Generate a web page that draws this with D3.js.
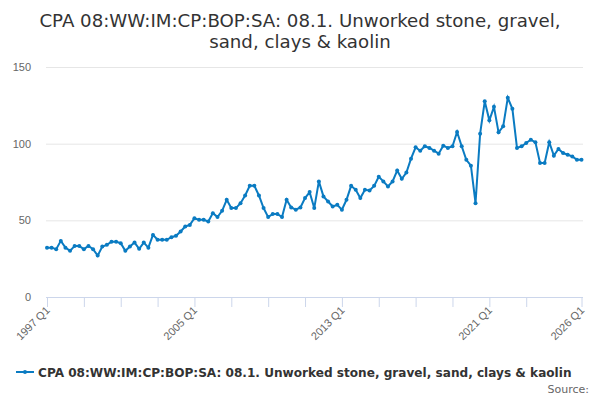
<!DOCTYPE html>
<html>
<head>
<meta charset="utf-8">
<script src="https://cdn.jsdelivr.net/npm/d3@7"></script>
<style>
  body { margin: 0; background: #fff; }
  svg { font-family: "DejaVu Sans", sans-serif; }
</style>
</head>
<body>
<div id="chart"></div>
<script>
// quarterly series, 1997 Q1 .. 2026 Q1
var startYear = 1997;
var values = [
  32.2, 32.2, 31.2, 36.6, 32.2, 30.1, 33.3, 33.3, 31.2, 33.3, 31.2, 27.0,
  32.9, 34.0, 36.1, 36.1, 35.1, 30.1, 32.9, 35.5, 31.4, 35.5, 32.2, 40.5,
  37.3, 37.3, 37.3, 39.0, 39.9, 42.7, 46.0, 47.0, 51.4, 50.3, 50.3, 49.2,
  54.7, 52.1, 56.2, 63.4, 58.0, 58.0, 61.2, 66.2, 72.5, 72.5, 66.2, 58.0,
  52.1, 54.2, 54.2, 52.1, 63.4, 58.4, 56.9, 58.4, 64.5, 68.4, 58.0, 75.4,
  65.6, 62.3, 59.0, 60.1, 56.9, 63.4, 72.5, 69.9, 64.5, 69.9, 69.5, 72.5,
  78.4, 75.4, 72.1, 75.4, 82.5, 77.1, 81.2, 90.2, 97.6, 95.4, 98.3, 97.2,
  95.4, 93.5, 98.7, 97.2, 98.3, 107.6, 98.3, 89.5, 85.6, 61.2, 106.5, 127.6,
  115.2, 124.0, 107.4, 111.3, 129.9, 122.7, 97.2, 98.3, 100.4, 102.6, 100.9, 87.4,
  87.4, 100.9, 92.2, 96.5, 93.9, 92.8, 91.7, 89.5, 89.5
];
var labels = values.map(function(v, i) {
  return (startYear + Math.floor(i / 4)) + ' Q' + (i % 4 + 1);
});
var yTicks = [0, 50, 100, 150];
var tickIdx = [0, 8, 16, 24, 32, 40, 48, 56, 64, 72, 80, 88, 96, 104, 116];
var labelIdx = [0, 32, 64, 96, 116];

var titleLines = ['CPA 08:WW:IM:CP:BOP:SA: 08.1. Unworked stone, gravel,', 'sand, clays & kaolin'];
var seriesName = 'CPA 08:WW:IM:CP:BOP:SA: 08.1. Unworked stone, gravel, sand, clays & kaolin';
var lineColor = '#0a7bc2';

var W = 600, H = 400;
var plot = {left: 46, right: 583, top: 67, bottom: 297};

var svg = d3.select('#chart').append('svg')
  .attr('width', W).attr('height', H);

var x = d3.scaleLinear().domain([0, values.length - 1]).range([47, 581.5]);
var y = d3.scaleLinear().domain([0, 150]).range([plot.bottom, plot.top]);

// title
svg.append('text')
  .attr('x', W / 2).attr('y', 27)
  .attr('text-anchor', 'middle')
  .style('font-size', '18.2px').style('fill', '#333')
  .selectAll('tspan').data(titleLines).enter().append('tspan')
  .attr('x', W / 2).attr('dy', function(d, i) { return i ? 21 : 0; })
  .text(function(d) { return d; });

// y gridlines + labels
var yAxis = svg.append('g')
  .attr('transform', 'translate(' + plot.left + ',0)')
  .call(d3.axisLeft(y).tickValues(yTicks).tickSize(-(plot.right - plot.left)).tickPadding(15));
yAxis.select('.domain').remove();
yAxis.selectAll('line').attr('stroke', '#e6e6e6');
yAxis.selectAll('text').style('font-size', '11px').attr('fill', '#666').style('fill', '#666')
  .attr('font-family', null);
yAxis.selectAll('.tick').filter(function(d) { return d === 0; }).select('line').remove();

// x axis
var xAxis = svg.append('g')
  .attr('transform', 'translate(0,' + plot.bottom + ')')
  .call(d3.axisBottom(x).tickValues(tickIdx).tickSize(10).tickFormat(function(d) {
    return labelIdx.indexOf(d) >= 0 ? labels[d] : '';
  }));
xAxis.select('.domain').attr('d', 'M' + plot.left + ',0.5H' + plot.right).attr('stroke', '#ccd6eb');
xAxis.selectAll('line').attr('stroke', '#ccd6eb');
xAxis.selectAll('text')
  .attr('font-family', null)
  .style('font-size', '11px').attr('fill', '#666').style('fill', '#666')
  .attr('text-anchor', 'end')
  .attr('dy', null).attr('y', 0)
  .attr('transform', 'translate(3,14) rotate(-45)');

// line
var line = d3.line()
  .x(function(d, i) { return x(i); })
  .y(function(d) { return y(d); });

svg.append('path')
  .datum(values)
  .attr('d', line)
  .attr('fill', 'none')
  .attr('stroke', lineColor)
  .attr('stroke-width', 2);

svg.append('g').selectAll('circle').data(values).enter().append('circle')
  .attr('cx', function(d, i) { return x(i); })
  .attr('cy', function(d) { return y(d); })
  .attr('r', 2)
  .attr('fill', lineColor);

// legend
var lg = svg.append('g').attr('transform', 'translate(16,372)');
lg.append('line').attr('x1', 0).attr('x2', 18).attr('y1', 0).attr('y2', 0)
  .attr('stroke', lineColor).attr('stroke-width', 2);
lg.append('circle').attr('cx', 9).attr('cy', 0).attr('r', 2).attr('fill', lineColor);
lg.append('text').attr('x', 22).attr('y', 4.5)
  .style('font-size', '12.1px').style('font-weight', 'bold').style('fill', '#333')
  .text(seriesName);

svg.append('text')
  .attr('x', 589).attr('y', 393)
  .attr('text-anchor', 'end')
  .style('font-size', '11px').style('fill', '#666')
  .text('Source:');
</script>
</body>
</html>
